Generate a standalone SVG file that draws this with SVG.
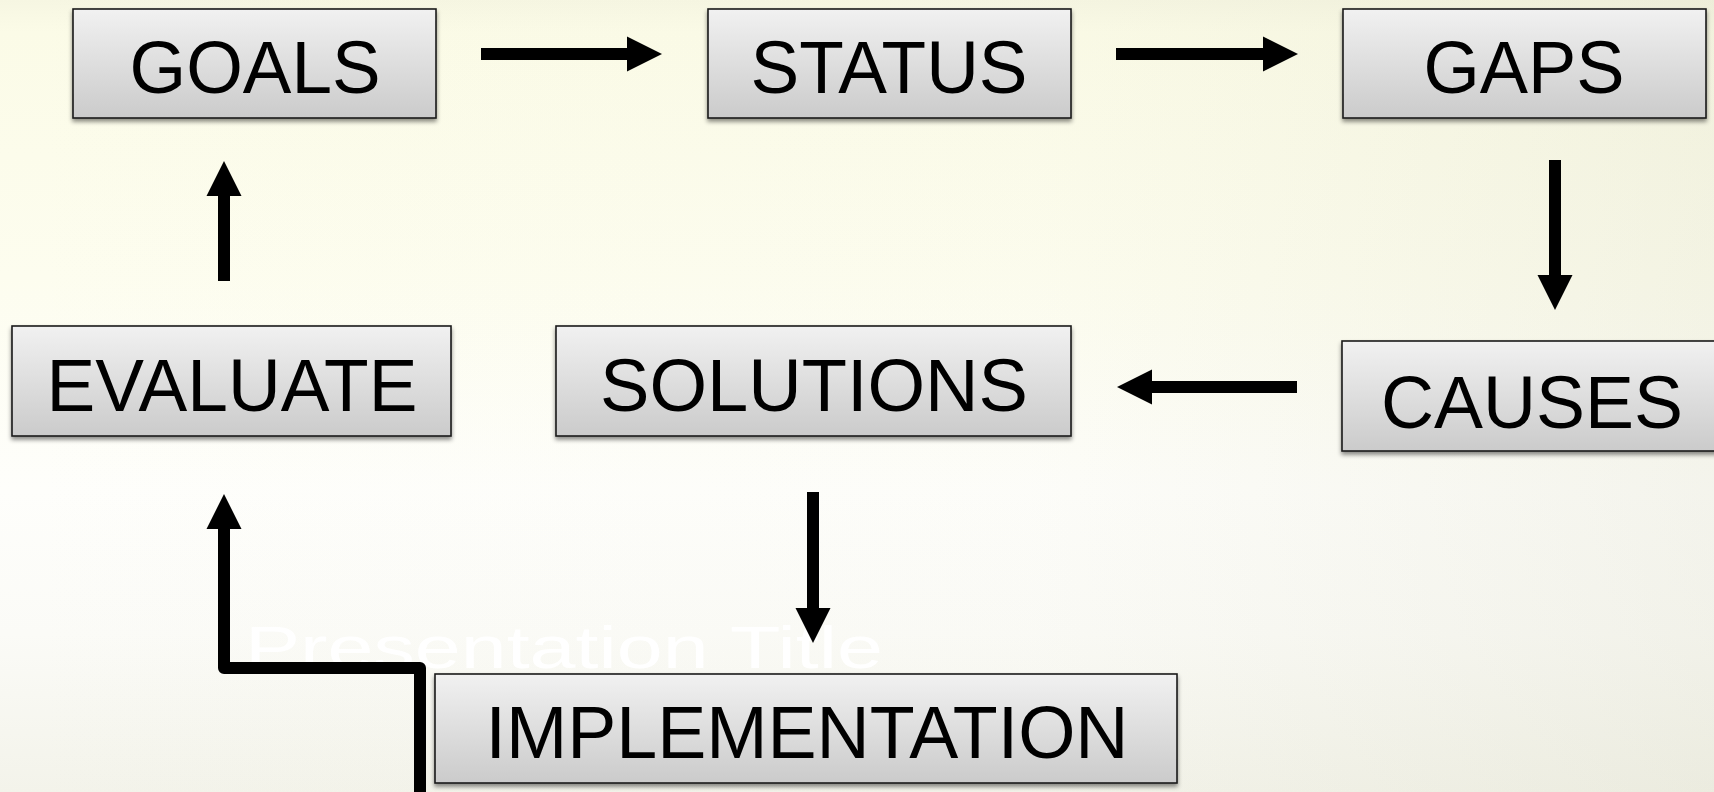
<svg xmlns="http://www.w3.org/2000/svg" width="1714" height="792" viewBox="0 0 1714 792">
  <defs>
    <linearGradient id="bgV" x1="0" y1="0" x2="0" y2="1">
      <stop offset="0" stop-color="#f6f6e2"/>
      <stop offset="0.04" stop-color="#fbfbe7"/>
      <stop offset="0.35" stop-color="#fdfdef"/>
      <stop offset="0.62" stop-color="#fefefb"/>
      <stop offset="0.8" stop-color="#fbfbf7"/>
      <stop offset="1" stop-color="#f3f3ea"/>
    </linearGradient>
    <linearGradient id="bgH" x1="0" y1="0" x2="1" y2="0">
      <stop offset="0" stop-color="#d8d8c0" stop-opacity="0"/>
      <stop offset="0.6" stop-color="#d8d8c0" stop-opacity="0.04"/>
      <stop offset="1" stop-color="#d0d0b8" stop-opacity="0.22"/>
    </linearGradient>
    <linearGradient id="box" x1="0" y1="0" x2="0" y2="1">
      <stop offset="0" stop-color="#f1f1f1"/>
      <stop offset="1" stop-color="#cbcbcb"/>
    </linearGradient>
    <filter id="shadow" x="-5%" y="-10%" width="110%" height="130%">
      <feDropShadow dx="0" dy="3" stdDeviation="2.2" flood-color="#000" flood-opacity="0.45"/>
    </filter>
    <marker id="head" markerUnits="userSpaceOnUse" markerWidth="36" markerHeight="36" viewBox="0 -18 36 36" refX="0" refY="0" orient="auto">
      <path d="M0,-17.5 L35,0 L0,17.5 z" fill="#000"/>
    </marker>
  </defs>
  <style>
    .node rect { fill: url(#box); stroke: #1a1a1a; stroke-width: 1.6; filter: url(#shadow); }
    .node text { font-family: "Liberation Sans", Arial, sans-serif; font-size: 74px; fill: #000; text-anchor: middle; }
    .conn path { fill: none; stroke: #000; stroke-width: 12; marker-end: url(#head); }
    .ghost { font-family: "Liberation Sans", Arial, sans-serif; font-size: 60px; fill: #ffffff; }
  </style>

  <rect x="0" y="0" width="1714" height="792" fill="url(#bgV)"/>
  <rect x="0" y="0" width="1714" height="792" fill="url(#bgH)"/>

  <text class="ghost" x="245" y="668" textLength="638" lengthAdjust="spacingAndGlyphs">Presentation Title</text>

  <g id="connectors" class="conn">
    <path d="M481,54 L627,54"/>
    <path d="M1116,54 L1263,54"/>
    <path d="M1555,160 L1555,275"/>
    <path d="M1297,387 L1152,387"/>
    <path d="M813,492 L813,608"/>
    <path d="M224,281 L224,196"/>
    <path d="M420,792 L420,668 L224,668 L224,529" stroke-width="11" stroke-linejoin="round"/>
  </g>

  <g id="goals" class="node">
    <rect x="73" y="9" width="363" height="109"/>
    <text x="255" y="93" textLength="251" lengthAdjust="spacingAndGlyphs">GOALS</text>
  </g>
  <g id="status" class="node">
    <rect x="708" y="9" width="363" height="109"/>
    <text x="889" y="93" textLength="277" lengthAdjust="spacingAndGlyphs">STATUS</text>
  </g>
  <g id="gaps" class="node">
    <rect x="1343" y="9" width="363" height="109"/>
    <text x="1524" y="93" textLength="201" lengthAdjust="spacingAndGlyphs">GAPS</text>
  </g>
  <g id="evaluate" class="node">
    <rect x="12" y="326" width="439" height="110"/>
    <text x="232" y="411" textLength="371" lengthAdjust="spacingAndGlyphs">EVALUATE</text>
  </g>
  <g id="solutions" class="node">
    <rect x="556" y="326" width="515" height="110"/>
    <text x="814" y="411" textLength="428" lengthAdjust="spacingAndGlyphs">SOLUTIONS</text>
  </g>
  <g id="causes" class="node">
    <rect x="1342" y="341" width="382" height="110"/>
    <text x="1532" y="428" textLength="302" lengthAdjust="spacingAndGlyphs">CAUSES</text>
  </g>
  <g id="implementation" class="node">
    <rect x="435" y="674" width="742" height="109"/>
    <text x="807" y="758" textLength="643" lengthAdjust="spacingAndGlyphs">IMPLEMENTATION</text>
  </g>
</svg>
